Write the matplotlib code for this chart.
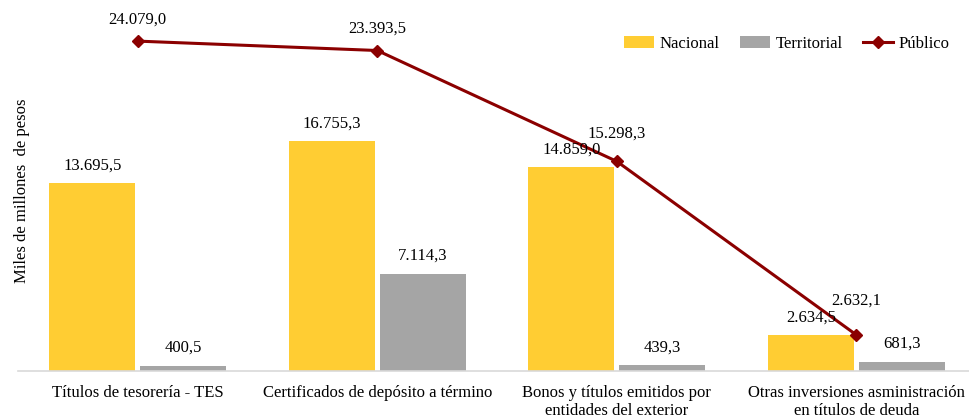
import matplotlib
matplotlib.use("Agg")
import matplotlib.pyplot as plt
import numpy as np

categorias = ["Títulos de tesorería - TES",
              "Certificados de depósito a término",
              "Bonos y títulos emitidos por\nentidades del exterior",
              "Otras inversiones asministración\nen títulos de deuda"]
nacional = [13695.5, 16755.3, 14859.0, 2634.5]
territorial = [400.5, 7114.3, 439.3, 681.3]
publico = [24079.0, 23393.5, 15298.3, 2632.1]


def fmt(v):
    # formato colombiano: punto para miles, coma para decimales
    s = "{:,.1f}".format(v)
    return s.replace(",", "X").replace(".", ",").replace("X", ".")


plt.rcParams['font.family'] = ['Liberation Serif', 'DejaVu Serif']
plt.rcParams['font.size'] = 12

fig = plt.figure(figsize=(9.69, 4.17), dpi=100)
ax = fig.add_axes([18 / 969, 46 / 417, 951 / 969, 371 / 417])

x = np.arange(len(categorias))
w = 0.36
b1 = ax.bar(x - 0.19, nacional, w, color='#FFCD33', label='Nacional')
b2 = ax.bar(x + 0.19, territorial, w, color='#A5A5A5', label='Territorial')
ln, = ax.plot(x, publico, color='#8B0000', lw=2.2, marker='D', ms=6.5,
              label='Público')

for xi, v in zip(x - 0.19, nacional):
    ax.annotate(fmt(v), (xi, v), xytext=(0, 7), textcoords='offset points',
                ha='center', va='bottom')
for xi, v in zip(x + 0.19, territorial):
    ax.annotate(fmt(v), (xi, v), xytext=(0, 7), textcoords='offset points',
                ha='center', va='bottom')
pub_off = [(0, 10), (0, 10), (0, 14), (0, 19)]
for xi, v, off in zip(x, publico, pub_off):
    ax.annotate(fmt(v), (xi, v), xytext=off, textcoords='offset points',
                ha='center', va='bottom')

ax.set_xlim(-0.5, 3.47)
ax.set_ylim(0, 27080)
ax.set_xticks(x)
ax.set_xticklabels(categorias, linespacing=1.15)
ax.tick_params(axis='x', length=0, pad=10)
ax.set_yticks([])
for s in ['top', 'right', 'left']:
    ax.spines[s].set_visible(False)
ax.spines['bottom'].set_color('#D9D9D9')
ax.spines['bottom'].set_linewidth(1.2)

ax.legend(handles=[b1, b2, ln], loc='upper right', ncol=3, frameon=False,
          bbox_to_anchor=(0.99, 0.93), handlelength=1.8, columnspacing=1.2,
          handletextpad=0.35, borderaxespad=0.2)

fig.text(22 / 969, 1 - 191 / 417, "Miles de millones  de pesos",
         rotation=90, ha='center', va='center')

fig.savefig("out.png", dpi=100)
